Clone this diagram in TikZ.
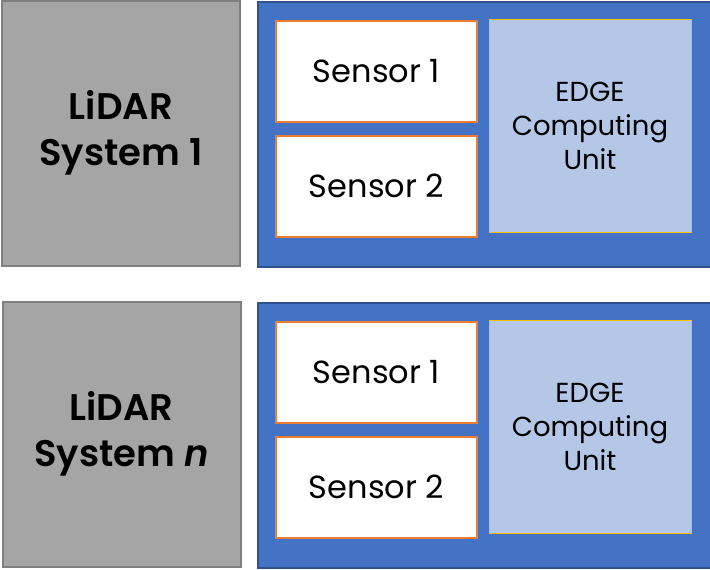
\documentclass[tikz,border=0pt]{standalone}
\usepackage{fontspec}
\setmainfont{Poppins}[BoldFont={Poppins SemiBold}, BoldItalicFont={Poppins SemiBold Italic}]
\usepackage{xcolor}
\usetikzlibrary{positioning, calc}

\definecolor{sysgray}{HTML}{A5A5A5}
\definecolor{sysgrayline}{HTML}{7F7F7F}
\definecolor{unitblue}{HTML}{4472C4}
\definecolor{unitblueline}{HTML}{2F528F}
\definecolor{sensorline}{HTML}{ED7D31}
\definecolor{edgefill}{HTML}{B4C7E7}
\definecolor{edgeline}{HTML}{FFC000}

\begin{document}
\begin{tikzpicture}[x=1pt, y=-1pt,
    lidarbox/.style={draw=sysgrayline, fill=sysgray, line width=2pt, inner sep=0pt,
        minimum width=238pt, minimum height=265pt, align=center,
        font=\fontsize{37}{46}\selectfont\bfseries},
    unitbox/.style={draw=unitblueline, fill=unitblue, line width=2pt, inner sep=0pt,
        minimum width=454pt, minimum height=265pt},
    sensorbox/.style={draw=sensorline, fill=white, line width=2.2pt, inner sep=0pt,
        minimum width=201pt, minimum height=101pt,
        font=\fontsize{32}{38}\selectfont},
    edgebox/.style={draw=edgeline, fill=edgefill, line width=1pt, inner sep=0pt,
        minimum width=202pt, minimum height=213pt, align=center,
        font=\fontsize{27.5}{34}\selectfont}]
\useasboundingbox (0,0) rectangle (710,570);

% System 1
\node[lidarbox] (lidar1) at (121,133) {LiDAR\\System 1};
\node[unitbox] (unit1) at (485,134.5) {};
\node[sensorbox] (sens11) at (376.5,71.5) {\raisebox{2pt}{Sensor 1}};
\node[sensorbox] (sens12) at (376.5,186.5) {\raisebox{2pt}{Sensor 2}};
\node[edgebox] (edge1) at (590,125.5) {EDGE\\Computing\\Unit};

% System n
\node[lidarbox] (lidarn) at (121.5,434) {LiDAR\\System \textit{n}};
\node[unitbox] (unitn) at (485,435.5) {};
\node[sensorbox] (sensn1) at (376.5,372.5) {\raisebox{2pt}{Sensor 1}};
\node[sensorbox] (sensn2) at (376.5,487.5) {\raisebox{2pt}{Sensor 2}};
\node[edgebox] (edgen) at (590,426.5) {EDGE\\Computing\\Unit};
\end{tikzpicture}
\end{document}
